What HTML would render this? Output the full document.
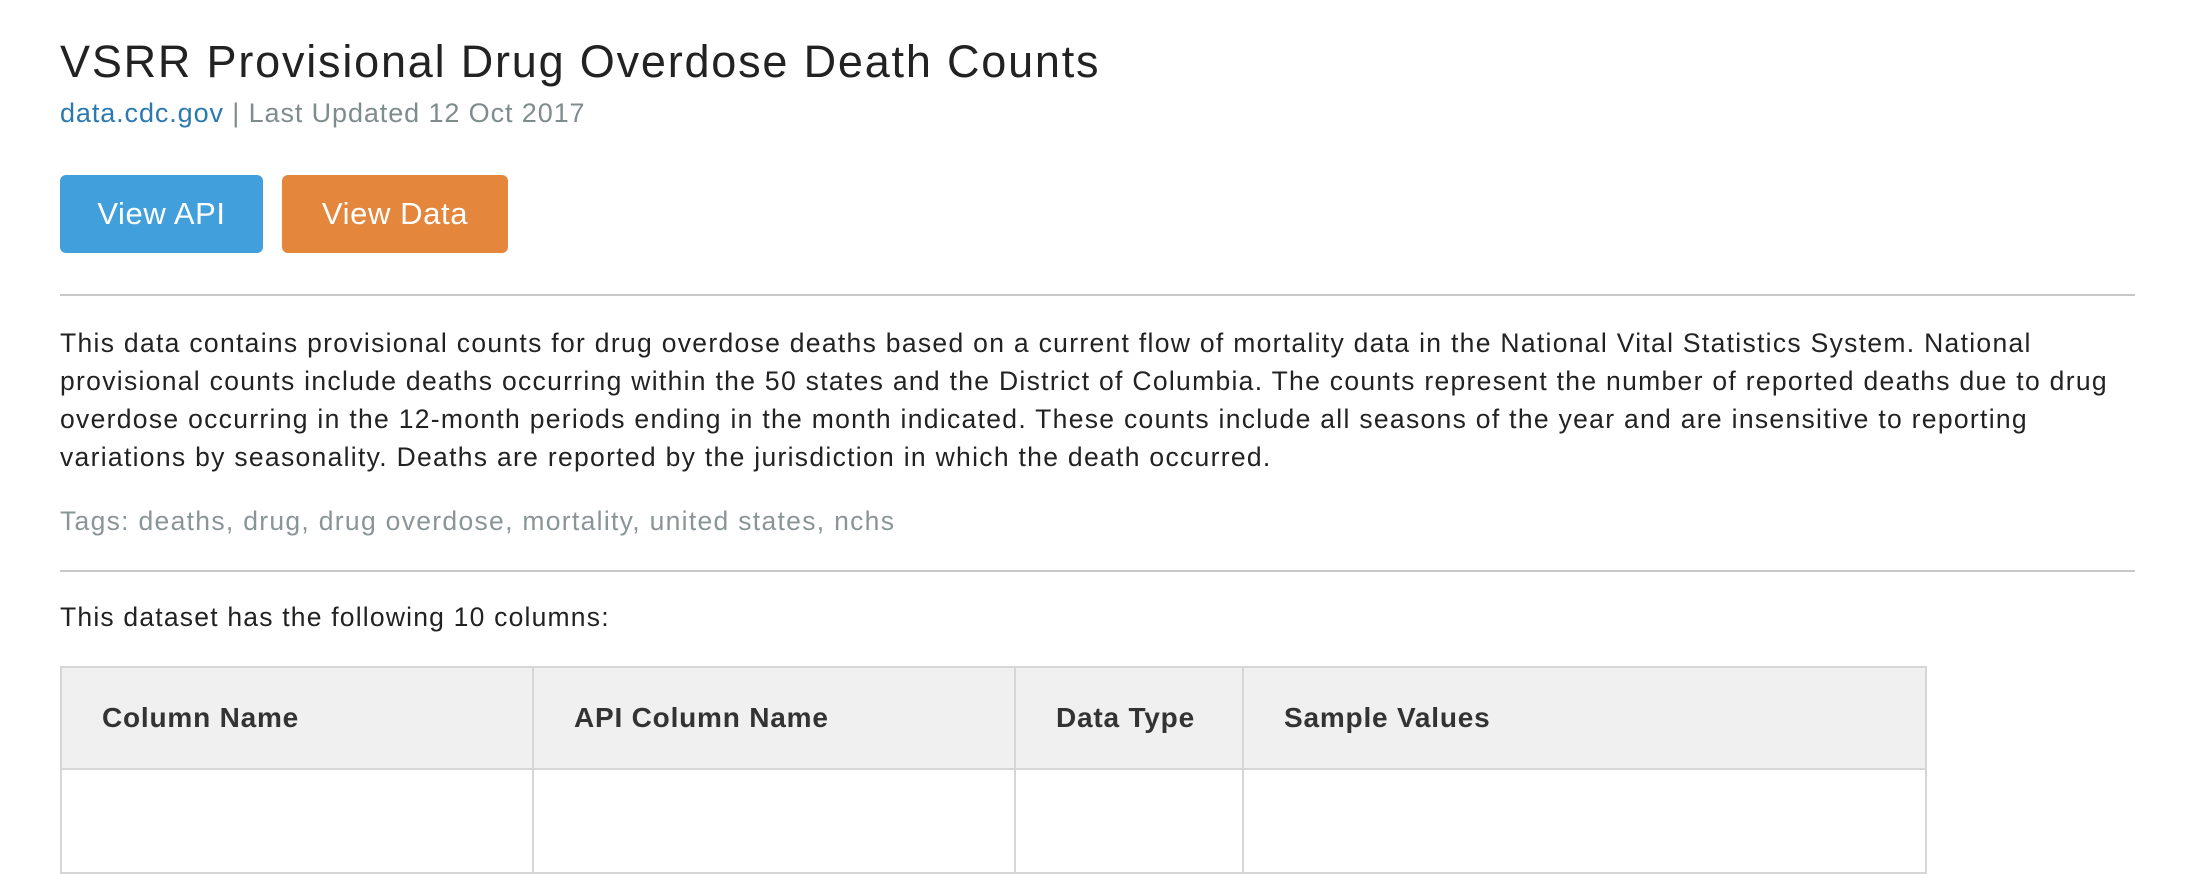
<!DOCTYPE html>
<html><head><meta charset="utf-8"><style>
html,body{margin:0;padding:0;width:2208px;height:800px;overflow:hidden;background:#fff;font-family:"Liberation Sans",sans-serif;color:#222;}
.a{position:absolute;white-space:nowrap;}
.btn{position:absolute;color:#fff;font-size:31px;border-radius:6px;display:flex;align-items:center;justify-content:center;letter-spacing:0.6px;}
.hr{position:absolute;left:60px;width:2075px;height:2px;background:#c8c8c8;}
p{position:absolute;left:60px;top:324px;margin:0;font-size:26.5px;line-height:38px;color:#222;white-space:nowrap;letter-spacing:1.3px;}
table{position:absolute;left:60px;top:666px;width:1867px;border-collapse:collapse;table-layout:fixed;}
th{background:#f0f0f0;border:2px solid #d6d6d6;height:100px;text-align:left;font-size:28px;font-weight:bold;padding:0 0 0 40px;color:#333;letter-spacing:0.8px;}
td{border:2px solid #d6d6d6;height:100px;}
</style></head><body>
<div class="a" style="left:60px;top:36px;font-size:45px;color:#222;letter-spacing:1.8px;">VSRR Provisional Drug Overdose Death Counts</div>
<div class="a" style="left:60px;top:98px;font-size:27px;color:#7f8c8d;letter-spacing:0.9px;"><span style="color:#2a79b0;">data.cdc.gov</span> | Last Updated 12 Oct 2017</div>
<div class="btn" style="left:60px;top:175px;width:203px;height:78px;background:#419fdb;">View API</div>
<div class="btn" style="left:282px;top:175px;width:226px;height:78px;background:#e5863d;">View Data</div>
<div class="hr" style="top:294px;"></div>
<p>This data contains provisional counts for drug overdose deaths based on a current flow of mortality data in the National Vital Statistics System. National<br>provisional counts include deaths occurring within the 50 states and the District of Columbia. The counts represent the number of reported deaths due to drug<br>overdose occurring in the 12-month periods ending in the month indicated. These counts include all seasons of the year and are insensitive to reporting<br>variations by seasonality. Deaths are reported by the jurisdiction in which the death occurred.</p>
<div class="a" style="left:60px;top:506px;font-size:26.5px;color:#8a9597;letter-spacing:1.3px;">Tags: deaths, drug, drug overdose, mortality, united states, nchs</div>
<div class="hr" style="top:570px;"></div>
<div class="a" style="left:60px;top:602px;font-size:26.5px;color:#222;letter-spacing:1.2px;">This dataset has the following 10 columns:</div>
<table>
<colgroup><col style="width:472px"><col style="width:482px"><col style="width:228px"><col></colgroup>
<tr><th>Column Name</th><th>API Column Name</th><th>Data Type</th><th>Sample Values</th></tr>
<tr><td></td><td></td><td></td><td></td></tr>
</table>
</body></html>
